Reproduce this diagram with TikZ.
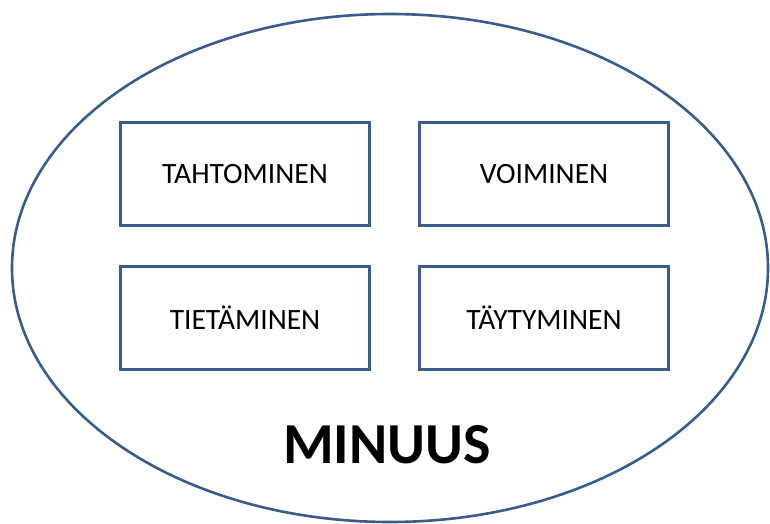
\documentclass[tikz,border=0pt]{standalone}
\usepackage{fontspec}
\setmainfont{Carlito}
\usetikzlibrary{shapes.geometric}
\definecolor{edgeblue}{RGB}{56,93,138}
\begin{document}
\begin{tikzpicture}[x=1pt,y=-1pt,
  box/.style={draw=edgeblue,line width=2.6pt,rectangle,minimum width=249pt,minimum height=103pt,inner sep=0pt,font=\fontsize{29.5}{32}\selectfont,text=black},
  outer/.style={draw=edgeblue,line width=2.6pt,ellipse,minimum width=756pt,minimum height=508pt,inner sep=0pt}]
\useasboundingbox (0,0) rectangle (770,523);
\fill[white] (0,0) rectangle (770,523);
\node[outer] (self) at (390,268) {};
\node[box] (tahto) at (245,174) {TAHTOMINEN};
\node[box] (voima) at (544,174) {VOIMINEN};
\node[box] (tieto) at (245,318) {TIETÄMINEN};
\node[box] (tayty) at (544,318) {TÄYTYMINEN};
\node[font=\bfseries\fontsize{58}{62}\selectfont] (minuus) at (387,445) {MINUUS};
\end{tikzpicture}
\end{document}
